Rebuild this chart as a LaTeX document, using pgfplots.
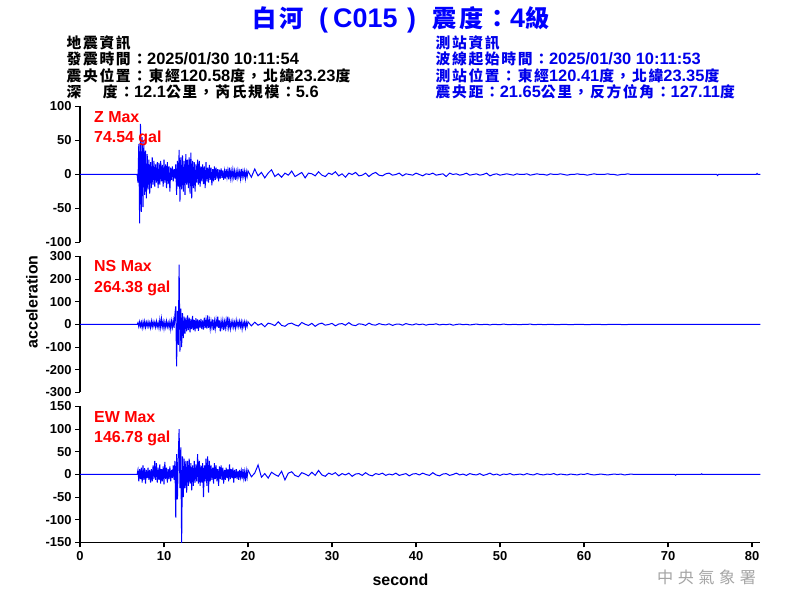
\documentclass[border=0pt]{standalone}
\usepackage{fontspec}
\setmainfont{Liberation Sans}
\newfontfamily\cjk[Scale=0.9, LetterSpace=11]{Noto Sans CJK TC}
\usepackage{pgfplots}
\pgfplotsset{compat=1.18}
\usepackage{pgfplotstable}

\definecolor{trace}{RGB}{0,0,255}
\definecolor{lbl}{RGB}{255,0,0}
\definecolor{hdr}{RGB}{0,0,235}
\definecolor{wm}{RGB}{165,165,165}
\newcommand\z[1]{{\cjk #1}}

% Z component (gal)
\pgfplotstableread[row sep=\\]{
t a\\
0 0\\ 6.8 0\\ 6.9 -12\\ 7.0 45\\ 7.1 -72\\ 7.2 74.5\\ 7.3 -55\\ 7.4 55\\ 7.5 -48\\ 7.6 50\\ 7.7 -30\\ 7.8 35\\ 7.9 -35\\
8.0 30\\ 8.1 -22\\ 8.2 22\\ 8.3 -28\\ 8.4 18\\ 8.5 -20\\ 8.6 25\\ 8.7 -15\\ 8.8 20\\ 8.9 -18\\
9.0 15\\ 9.1 -12\\ 9.2 18\\ 9.3 -20\\ 9.4 17\\ 9.5 -15\\ 9.6 20\\ 9.7 -10\\ 9.8 14\\ 9.9 -18\\
10.0 22\\ 10.1 -12\\ 10.2 15\\ 10.3 -20\\ 10.4 18\\ 10.5 -14\\ 10.6 12\\ 10.7 -25\\ 10.8 10\\ 10.9 -8\\
11.0 12\\ 11.1 -10\\ 11.2 8\\ 11.3 -6\\ 11.4 15\\ 11.5 -30\\ 11.6 20\\ 11.7 -18\\ 11.8 36\\ 11.9 -40\\
12.0 25\\ 12.1 -22\\ 12.2 28\\ 12.3 -25\\ 12.4 20\\ 12.5 -30\\ 12.6 30\\ 12.7 -15\\ 12.8 22\\ 12.9 -20\\
13.0 25\\ 13.1 -28\\ 13.2 32\\ 13.3 -35\\ 13.4 20\\ 13.5 -20\\ 13.6 18\\ 13.7 -25\\ 13.8 15\\ 13.9 -12\\
14.0 22\\ 14.1 -15\\ 14.2 20\\ 14.3 -18\\ 14.4 12\\ 14.5 -10\\ 14.6 15\\ 14.7 -14\\ 14.8 12\\ 14.9 -20\\
15.0 18\\ 15.1 -10\\ 15.2 10\\ 15.3 -12\\ 15.4 14\\ 15.5 -8\\ 15.6 10\\ 15.7 -16\\ 15.8 8\\ 15.9 -10\\
16.0 12\\ 16.1 -8\\ 16.2 10\\ 16.3 -6\\ 16.4 8\\ 16.5 -10\\ 16.6 7\\ 16.7 -6\\ 16.8 9\\ 16.9 -5\\
17.0 6\\ 17.1 -8\\ 17.2 5\\ 17.3 -6\\ 17.4 8\\ 17.5 -4\\ 17.6 6\\ 17.7 -7\\ 17.8 10\\ 17.9 -5\\
18.0 5\\ 18.1 -6\\ 18.2 7\\ 18.3 -4\\ 18.4 5\\ 18.5 -8\\ 18.6 4\\ 18.7 -5\\ 18.8 6\\ 18.9 -3\\
19.0 4\\ 19.1 -6\\ 19.2 8\\ 19.3 -4\\ 19.4 5\\ 19.5 -3\\ 19.6 5\\ 19.7 -6\\ 19.8 4\\ 19.9 -3\\ 20.0 5\\
20.4 -4\\ 20.8 8\\ 21.2 -2\\ 21.6 3\\ 22.0 -5\\ 22.4 2\\ 22.8 7\\ 23.2 -3\\ 23.6 1\\ 24.0 -4\\
24.4 2\\ 24.8 -1\\ 25.2 5\\ 25.6 -3\\ 26.0 0\\ 26.4 3\\ 26.8 -5\\ 27.2 2\\ 27.6 1\\ 28.0 -2\\
28.4 4\\ 28.8 -1\\ 29.2 -3\\ 29.6 2\\ 30.0 0\\ 30.4 4\\ 30.8 -2\\ 31.2 1\\ 31.6 -4\\ 32.0 2\\
32.4 0\\ 32.8 3\\ 33.2 -2\\ 33.6 -1\\ 34.0 2\\ 34.4 -3\\ 34.8 1\\ 35.2 3\\ 35.6 -1\\ 36.0 -2\\
36.4 1\\ 36.8 2\\ 37.2 -1\\ 37.6 0\\ 38.0 2\\ 38.4 -2\\ 38.8 1\\ 39.2 0\\ 39.6 -1\\ 40.0 2\\
40.4 0\\ 40.8 -2\\ 41.2 1\\ 41.6 0\\ 42.0 2\\ 42.4 -1\\ 42.8 0\\ 43.2 1\\ 43.6 -3\\ 44.0 2\\
44.4 0\\ 44.8 1\\ 45.2 -1\\ 45.6 0\\ 46.0 2\\ 46.4 -1\\ 46.8 0\\ 47.2 1\\ 47.6 -1\\ 48.0 0\\
48.4 2\\ 48.8 -2\\ 49.2 0\\ 49.6 1\\ 50.0 -1\\ 50.4 0\\ 50.8 1\\ 51.2 0\\ 51.6 -1\\ 52.0 1\\
52.4 0\\ 52.8 0\\ 53.2 1\\ 53.6 -1\\ 54.0 0\\ 54.4 1\\ 54.8 0\\ 55.2 0\\ 55.6 -1\\ 56.0 1\\
56.4 0\\ 56.8 0\\ 57.2 1\\ 57.6 0\\ 58.0 -1\\ 58.4 0\\ 58.8 0\\ 59.2 1\\ 59.6 0\\ 60.0 0\\
60.4 -1\\ 60.8 0\\ 61.2 1\\ 61.6 0\\ 62.0 0\\ 62.4 0\\ 62.8 1\\ 63.2 0\\ 63.6 0\\ 64.0 -1\\
64.4 0\\ 64.8 0\\ 65.2 1\\ 65.6 0\\ 66.0 0\\ 75.8 0\\ 75.9 -1.5\\ 76.0 0\\ 80.5 0\\ 80.6 1.5\\ 80.7 0\\ 81 0\\
}\zdata

% NS component (gal)
\pgfplotstableread[row sep=\\]{
t a\\
0 0\\ 6.8 0\\ 6.9 8\\ 7.0 -10\\ 7.1 12\\ 7.2 -8\\ 7.3 10\\ 7.4 -15\\ 7.5 12\\ 7.6 -10\\ 7.7 14\\ 7.8 -12\\ 7.9 10\\
8.0 -8\\ 8.1 12\\ 8.2 -10\\ 8.3 8\\ 8.4 -14\\ 8.5 15\\ 8.6 -10\\ 8.7 12\\ 8.8 -8\\ 8.9 10\\
9.0 -12\\ 9.1 14\\ 9.2 -10\\ 9.3 8\\ 9.4 -15\\ 9.5 20\\ 9.6 -12\\ 9.7 25\\ 9.8 -10\\ 9.9 12\\
10.0 -18\\ 10.1 10\\ 10.2 -12\\ 10.3 15\\ 10.4 -10\\ 10.5 8\\ 10.6 -14\\ 10.7 12\\ 10.8 -20\\ 10.9 15\\
11.0 -12\\ 11.1 18\\ 11.2 -15\\ 11.3 45\\ 11.4 80\\ 11.5 -185\\ 11.6 60\\ 11.7 -90\\ 11.8 264.4\\ 11.9 -120\\
12.0 70\\ 12.1 -100\\ 12.2 50\\ 12.3 -60\\ 12.4 35\\ 12.5 -40\\ 12.6 30\\ 12.7 -30\\ 12.8 40\\ 12.9 -25\\
13.0 30\\ 13.1 -35\\ 13.2 25\\ 13.3 -20\\ 13.4 38\\ 13.5 -25\\ 13.6 20\\ 13.7 -30\\ 13.8 28\\ 13.9 -18\\
14.0 22\\ 14.1 -28\\ 14.2 20\\ 14.3 -15\\ 14.4 25\\ 14.5 -20\\ 14.6 18\\ 14.7 -22\\ 14.8 30\\ 14.9 -15\\
15.0 20\\ 15.1 -18\\ 15.2 40\\ 15.3 -15\\ 15.4 18\\ 15.5 -20\\ 15.6 15\\ 15.7 -12\\ 15.8 22\\ 15.9 -25\\
16.0 15\\ 16.1 -18\\ 16.2 20\\ 16.3 -12\\ 16.4 35\\ 16.5 -15\\ 16.6 18\\ 16.7 -30\\ 16.8 15\\ 16.9 -12\\
17.0 18\\ 17.1 -25\\ 17.2 12\\ 17.3 -15\\ 17.4 20\\ 17.5 -10\\ 17.6 35\\ 17.7 -12\\ 17.8 15\\ 17.9 -18\\
18.0 12\\ 18.1 -10\\ 18.2 15\\ 18.3 -12\\ 18.4 10\\ 18.5 -15\\ 18.6 18\\ 18.7 -8\\ 18.8 12\\ 18.9 -10\\
19.0 14\\ 19.1 -10\\ 19.2 12\\ 19.3 -20\\ 19.4 10\\ 19.5 -8\\ 19.6 12\\ 19.7 -15\\ 19.8 10\\ 19.9 -8\\ 20.0 12\\
20.4 -6\\ 20.8 10\\ 21.2 -3\\ 21.6 4\\ 22.0 -10\\ 22.4 6\\ 22.8 2\\ 23.2 -5\\ 23.6 12\\ 24.0 -4\\
24.4 -8\\ 24.8 3\\ 25.2 6\\ 25.6 -2\\ 26.0 -7\\ 26.4 9\\ 26.8 1\\ 27.2 -4\\ 27.6 5\\ 28.0 -8\\
28.4 2\\ 28.8 6\\ 29.2 -3\\ 29.6 0\\ 30.0 5\\ 30.4 -6\\ 30.8 2\\ 31.2 4\\ 31.6 -3\\ 32.0 8\\
32.4 -2\\ 32.8 -5\\ 33.2 3\\ 33.6 1\\ 34.0 -4\\ 34.4 6\\ 34.8 -1\\ 35.2 -3\\ 35.6 4\\ 36.0 0\\
36.4 -2\\ 36.8 3\\ 37.2 -4\\ 37.6 1\\ 38.0 2\\ 38.4 -3\\ 38.8 4\\ 39.2 0\\ 39.6 -2\\ 40.0 3\\
40.4 -1\\ 40.8 2\\ 41.2 -3\\ 41.6 1\\ 42.0 0\\ 42.4 3\\ 42.8 -2\\ 43.2 1\\ 43.6 -1\\ 44.0 2\\
44.4 -3\\ 44.8 0\\ 45.2 2\\ 45.6 -1\\ 46.0 1\\ 46.4 -2\\ 46.8 0\\ 47.2 2\\ 47.6 -1\\ 48.0 0\\
48.4 1\\ 48.8 -2\\ 49.2 1\\ 49.6 0\\ 50.0 -1\\ 50.4 2\\ 50.8 0\\ 51.2 -1\\ 51.6 1\\ 52.0 0\\
52.4 -1\\ 52.8 1\\ 53.2 0\\ 53.6 2\\ 54.0 -1\\ 54.4 0\\ 54.8 1\\ 55.2 -1\\ 55.6 0\\ 56.0 1\\
56.4 0\\ 56.8 -1\\ 57.2 0\\ 57.6 1\\ 58.0 0\\ 58.4 -1\\ 58.8 0\\ 59.2 1\\ 59.6 0\\ 60.0 0\\
60.4 -1\\ 60.8 0\\ 61.2 1\\ 61.6 0\\ 62.0 0\\ 62.4 -1\\ 62.8 0\\ 63.2 0\\ 63.6 1\\ 64.0 0\\
64.4 0\\ 64.8 -1\\ 65.2 0\\ 65.6 0\\ 66.0 0\\ 81 0\\
}\nsdata

% EW component (gal)
\pgfplotstableread[row sep=\\]{
t a\\
0 0\\ 6.8 0\\ 6.9 10\\ 7.0 -15\\ 7.1 12\\ 7.2 -10\\ 7.3 15\\ 7.4 -18\\ 7.5 20\\ 7.6 -12\\ 7.7 14\\ 7.8 -20\\ 7.9 10\\
8.0 -8\\ 8.1 15\\ 8.2 -12\\ 8.3 10\\ 8.4 -18\\ 8.5 12\\ 8.6 -15\\ 8.7 20\\ 8.8 -10\\ 8.9 30\\
9.0 -12\\ 9.1 25\\ 9.2 -18\\ 9.3 15\\ 9.4 -12\\ 9.5 22\\ 9.6 -20\\ 9.7 12\\ 9.8 -15\\ 9.9 18\\
10.0 -22\\ 10.1 28\\ 10.2 -10\\ 10.3 15\\ 10.4 -18\\ 10.5 12\\ 10.6 -10\\ 10.7 18\\ 10.8 -15\\ 10.9 10\\
11.0 -8\\ 11.1 20\\ 11.2 -12\\ 11.3 30\\ 11.4 -95\\ 11.5 45\\ 11.6 -55\\ 11.7 40\\ 11.8 100\\ 11.9 -30\\
12.0 60\\ 12.1 -155\\ 12.2 40\\ 12.3 -50\\ 12.4 35\\ 12.5 -30\\ 12.6 30\\ 12.7 -40\\ 12.8 30\\ 12.9 -25\\
13.0 35\\ 13.1 -20\\ 13.2 25\\ 13.3 -35\\ 13.4 20\\ 13.5 -25\\ 13.6 30\\ 13.7 -18\\ 13.8 22\\ 13.9 -15\\
14.0 45\\ 14.1 -20\\ 14.2 30\\ 14.3 -25\\ 14.4 20\\ 14.5 -18\\ 14.6 25\\ 14.7 -50\\ 14.8 20\\ 14.9 -15\\
15.0 35\\ 15.1 -25\\ 15.2 40\\ 15.3 -40\\ 15.4 30\\ 15.5 -15\\ 15.6 20\\ 15.7 -12\\ 15.8 15\\ 15.9 -20\\
16.0 25\\ 16.1 -10\\ 16.2 20\\ 16.3 -15\\ 16.4 12\\ 16.5 -25\\ 16.6 18\\ 16.7 -10\\ 16.8 20\\ 16.9 -12\\
17.0 15\\ 17.1 -20\\ 17.2 10\\ 17.3 -12\\ 17.4 15\\ 17.5 -8\\ 17.6 12\\ 17.7 -15\\ 17.8 22\\ 17.9 -10\\
18.0 12\\ 18.1 -8\\ 18.2 15\\ 18.3 -18\\ 18.4 10\\ 18.5 -8\\ 18.6 12\\ 18.7 -10\\ 18.8 8\\ 18.9 -12\\
19.0 10\\ 19.1 -6\\ 19.2 8\\ 19.3 -10\\ 19.4 12\\ 19.5 -8\\ 19.6 6\\ 19.7 -15\\ 19.8 8\\ 19.9 -6\\ 20.0 10\\
20.4 -5\\ 20.8 3\\ 21.2 21\\ 21.6 -6\\ 22.0 2\\ 22.4 -8\\ 22.8 5\\ 23.2 0\\ 23.6 -4\\ 24.0 7\\
24.4 -12\\ 24.8 3\\ 25.2 6\\ 25.6 -2\\ 26.0 -5\\ 26.4 4\\ 26.8 1\\ 27.2 -3\\ 27.6 5\\ 28.0 -2\\
28.4 9\\ 28.8 -1\\ 29.2 -4\\ 29.6 3\\ 30.0 0\\ 30.4 4\\ 30.8 -3\\ 31.2 2\\ 31.6 -1\\ 32.0 3\\
32.4 -4\\ 32.8 1\\ 33.2 2\\ 33.6 -2\\ 34.0 4\\ 34.4 -1\\ 34.8 -3\\ 35.2 2\\ 35.6 0\\ 36.0 3\\
36.4 -2\\ 36.8 1\\ 37.2 -1\\ 37.6 3\\ 38.0 -2\\ 38.4 0\\ 38.8 2\\ 39.2 -3\\ 39.6 1\\ 40.0 2\\
40.4 -1\\ 40.8 3\\ 41.2 0\\ 41.6 -2\\ 42.0 4\\ 42.4 -1\\ 42.8 -3\\ 43.2 1\\ 43.6 2\\ 44.0 -2\\
44.4 0\\ 44.8 3\\ 45.2 -1\\ 45.6 1\\ 46.0 -2\\ 46.4 2\\ 46.8 0\\ 47.2 -1\\ 47.6 2\\ 48.0 -2\\
48.4 0\\ 48.8 3\\ 49.2 -1\\ 49.6 1\\ 50.0 -2\\ 50.4 1\\ 50.8 0\\ 51.2 2\\ 51.6 -1\\ 52.0 0\\
52.4 1\\ 52.8 -1\\ 53.2 2\\ 53.6 0\\ 54.0 -1\\ 54.4 2\\ 54.8 0\\ 55.2 -1\\ 55.6 1\\ 56.0 0\\
56.4 2\\ 56.8 -1\\ 57.2 1\\ 57.6 0\\ 58.0 -1\\ 58.4 1\\ 58.8 0\\ 59.2 -1\\ 59.6 1\\ 60.0 0\\
60.4 2\\ 60.8 0\\ 61.2 -1\\ 61.6 0\\ 62.0 1\\ 62.4 0\\ 62.8 -1\\ 63.2 0\\ 63.6 1\\ 64.0 0\\
64.4 1\\ 64.8 -1\\ 65.2 0\\ 65.6 1\\ 66.0 0\\ 70.8 0\\ 70.9 -1.5\\ 71.0 0\\ 73.9 0\\ 74.0 1.5\\ 74.1 0\\ 81 0\\
}\ewdata

\pgfplotsset{
  seis/.style={
    scale only axis, width=680.4bp, height=136bp,
    anchor=south west, xmin=0, xmax=81,
    axis y line*=left,
    axis line style={black, line width=1.2bp, -},
    tick align=outside, major tick length=5bp,
    every tick/.style={black, line width=1.2bp},
    /pgf/number format/assume math mode=true,
    ticklabel style={font=\bfseries\fontsize{13}{13}\selectfont},
  },
  wave/.style={trace, line width=1bp},
}

\begin{document}
\begin{tikzpicture}[x=1bp,y=1bp]
\fill[white, use as bounding box] (0,0) rectangle (800,600);

% title: pieces placed so that they span the reference's width
\begin{scope}[every node/.style={anchor=base west, inner sep=0, text=trace,
      font=\bfseries\fontsize{27}{27}\selectfont}]
\node at (252,572) {\z{白河}};
\node at (319,572) {(};
\node at (333,572) {C015};
\node at (407,572) {)};
\node at (432,572) {\z{震度：}4\z{級}};
\end{scope}

% earthquake info (left)
\begin{scope}[every node/.style={anchor=base west, inner sep=0,
      font=\bfseries\fontsize{16.5}{16.5}\selectfont}]
\node at (66.5,551.5) {\z{地震資訊}};
\node at (66.5,535)   {\z{發震時間：}2025/01/30 10:11:54};
\node at (66.5,518.5) {\z{震央位置：東經}120.58\z{度，北緯}23.23\z{度}};
\node at (66.5,502.5) {\z{深}\hspace{1.3em}\z{度：}12.1\z{公里，芮氏規模：}5.6};
\end{scope}

% station info (right)
\begin{scope}[every node/.style={anchor=base west, inner sep=0, text=hdr,
      font=\bfseries\fontsize{16.5}{16.5}\selectfont}]
\node at (435.5,551.5) {\z{測站資訊}};
\node at (435.5,535)   {\z{波線起始時間：}2025/01/30 10:11:53};
\node at (435.5,518.5) {\z{測站位置：東經}120.41\z{度，北緯}23.35\z{度}};
\node at (435.5,502.5) {\z{震央距：}21.65\z{公里，反方位角：}127.11\z{度}};
\end{scope}

% Z
\begin{axis}[seis, at={(80bp,357.5bp)}, axis x line=none,
    ymin=-100, ymax=100, ytick={-100,-50,...,100}]
\addplot[wave] table[x=t, y=a] {\zdata};
\end{axis}

% NS
\begin{axis}[seis, at={(80bp,207.5bp)}, axis x line=none,
    ymin=-300, ymax=300, ytick={-300,-200,...,300}]
\addplot[wave] table[x=t, y=a] {\nsdata};
\end{axis}

% EW
\begin{axis}[seis, at={(80bp,57.5bp)}, axis x line*=bottom,
    ymin=-150, ymax=150, ytick={-150,-100,...,150}, xtick={0,10,...,80}]
\addplot[wave] table[x=t, y=a] {\ewdata};
\end{axis}

% peak labels
\begin{scope}[every node/.style={anchor=base west, inner sep=0, text=lbl,
      font=\bfseries\fontsize{16}{16}\selectfont}]
\node at (94,477.3) {Z Max};
\node at (94,457.3) {74.54 gal};
\node at (94,328)   {NS Max};
\node at (94,307.3) {264.38 gal};
\node at (94,177.3) {EW Max};
\node at (94,157.3) {146.78 gal};
\end{scope}

% axis titles
\node[rotate=90, inner sep=0, font=\bfseries\fontsize{16}{16}\selectfont] at (32,298) {acceleration};
\node[anchor=base, inner sep=0, font=\bfseries\fontsize{16}{16}\selectfont] at (400.5,14) {second};

% watermark
\node[anchor=base west, inner sep=0, text=wm, font=\fontsize{18}{18}\selectfont] at (657,16)
  {\z{中\hspace{4.5bp}央\hspace{4.5bp}氣\hspace{4.5bp}象\hspace{4.5bp}署}};
\end{tikzpicture}
\end{document}
